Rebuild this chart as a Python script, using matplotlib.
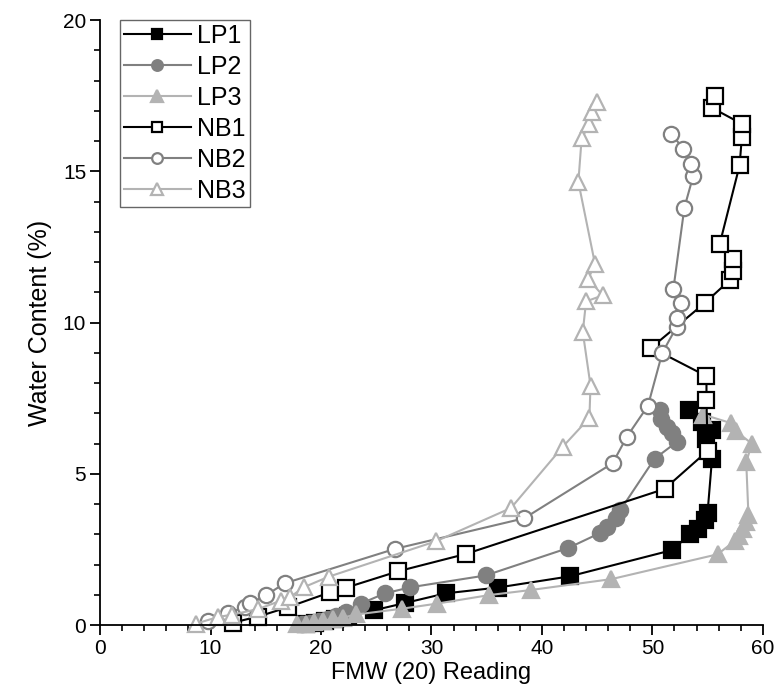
import matplotlib
matplotlib.use("Agg")
import matplotlib.pyplot as plt
from matplotlib.ticker import MultipleLocator

plt.rcParams['font.family'] = ['Liberation Sans', 'DejaVu Sans']

# FMW (20) reading / water content (%) per sample
lp1_x = [18.6, 19.5, 20.4, 21.3, 22.4, 24.8, 27.6, 31.3, 36.0, 42.5, 51.8, 53.4, 54.1, 54.8, 55.0,
         55.4, 54.9, 55.4, 54.5, 53.3]
lp1_y = [0.02, 0.07, 0.12, 0.2, 0.3, 0.49, 0.73, 1.05, 1.24, 1.61, 2.48, 3.0, 3.18, 3.47, 3.72,
         5.5, 6.15, 6.45, 6.7, 7.1]

lp2_x = [18.3, 19.0, 19.8, 20.6, 21.4, 22.3, 23.6, 25.8, 28.1, 34.9, 42.4, 45.3, 45.9, 46.7,
         47.1, 50.2, 52.2, 51.8, 51.3, 50.8, 50.7]
lp2_y = [0.02, 0.08, 0.13, 0.2, 0.3, 0.42, 0.71, 1.05, 1.25, 1.64, 2.55, 3.05, 3.25, 3.55,
         3.8, 5.5, 6.05, 6.35, 6.55, 6.8, 7.1]

lp3_x = [17.8, 18.6, 19.4, 20.2, 21.1, 22.0, 23.2, 27.3, 30.5, 35.2, 39.0, 46.3, 55.9, 57.5,
         57.8, 58.2, 58.5, 58.7, 58.5, 59.0, 57.6, 57.1, 54.6]
lp3_y = [0.02, 0.05, 0.1, 0.15, 0.2, 0.25, 0.35, 0.54, 0.71, 0.99, 1.16, 1.52, 2.34, 2.79,
         2.96, 3.18, 3.4, 3.63, 5.38, 6.0, 6.4, 6.68, 6.96]

nb1_x = [12.0, 14.3, 17.0, 20.8, 22.3, 27.0, 33.1, 51.1, 55.0, 54.9, 54.9, 49.9, 54.75, 57.0,
         57.3, 57.3, 56.1, 57.9, 58.1, 58.1, 55.4, 55.7]
nb1_y = [0.08, 0.28, 0.59, 1.08, 1.24, 1.78, 2.35, 4.5, 5.76, 7.45, 8.23, 9.17, 10.65, 11.4,
         11.7, 12.1, 12.6, 15.2, 16.12, 16.57, 17.1, 17.5]

nb2_x = [9.8, 11.6, 13.1, 13.6, 15.0, 16.7, 26.7, 38.4, 46.4, 47.7, 49.6, 50.9, 52.2, 52.2,
         52.6, 51.9, 52.9, 53.7, 53.5, 52.8, 51.7]
nb2_y = [0.14, 0.4, 0.59, 0.72, 0.98, 1.38, 2.52, 3.53, 5.35, 6.23, 7.25, 9.0, 9.86, 10.14,
         10.65, 11.1, 13.8, 14.85, 15.25, 15.75, 16.25]

nb3_x = [8.7, 10.7, 11.9, 14.3, 16.4, 17.2, 18.5, 20.7, 30.4, 37.2, 41.9, 44.3, 44.4, 43.7,
         44.0, 45.5, 44.2, 44.8, 43.3, 43.6, 44.3, 44.5, 45.0]
nb3_y = [0.05, 0.27, 0.34, 0.53, 0.81, 0.93, 1.26, 1.6, 2.77, 3.87, 5.9, 6.85, 7.92, 9.69,
         10.7, 10.9, 11.44, 11.95, 14.65, 16.1, 16.55, 16.95, 17.3]

labels = ["LP1", "LP2", "LP3", "NB1", "NB2", "NB3"]

fig = plt.figure(figsize=(7.76, 6.93), dpi=100)
ax = fig.add_axes([0.129, 0.098, 0.854, 0.873])

black = "black"
mid = "#808080"
light = "#b3b3b3"

series = [
    (lp1_x, lp1_y, "s", black, black),
    (lp2_x, lp2_y, "o", mid, mid),
    (lp3_x, lp3_y, "^", light, light),
    (nb1_x, nb1_y, "s", black, "white"),
    (nb2_x, nb2_y, "o", mid, "white"),
    (nb3_x, nb3_y, "^", light, "white"),
]

for (x, y, m, c, fc), lab in zip(series, labels):
    ax.plot(x, y, marker=m, color=c, markerfacecolor=fc, markeredgecolor=c,
            markersize=11 if m != "^" else 12, markeredgewidth=1.6, linewidth=1.5,
            label=lab, clip_on=False)

ax.set_xlim(0, 60)
ax.set_ylim(0, 20)
ax.xaxis.set_major_locator(MultipleLocator(10))
ax.xaxis.set_minor_locator(MultipleLocator(2))
ax.yaxis.set_major_locator(MultipleLocator(5))
ax.yaxis.set_minor_locator(MultipleLocator(1))
ax.tick_params(which="major", direction="out", length=7, width=1.3, labelsize=15, pad=3)
ax.tick_params(which="minor", direction="out", length=4, width=1.2)
ax.spines["top"].set_visible(False)
ax.spines["right"].set_visible(False)
ax.spines["left"].set_linewidth(1.3)
ax.spines["bottom"].set_linewidth(1.3)

ax.set_xlabel("FMW (20) Reading", fontsize=17, labelpad=3)
ax.set_ylabel("Water Content (%)", fontsize=18, labelpad=8)

leg = ax.legend(loc="upper left", bbox_to_anchor=(0.03, 1.0), fontsize=18, handlelength=2.7,
                markerscale=0.7, fancybox=False, framealpha=1, edgecolor="#666666",
                borderpad=0.15, labelspacing=0.28, handletextpad=0.25, borderaxespad=0.0)
leg.get_frame().set_linewidth(1.0)

fig.savefig("out.png", dpi=100)
